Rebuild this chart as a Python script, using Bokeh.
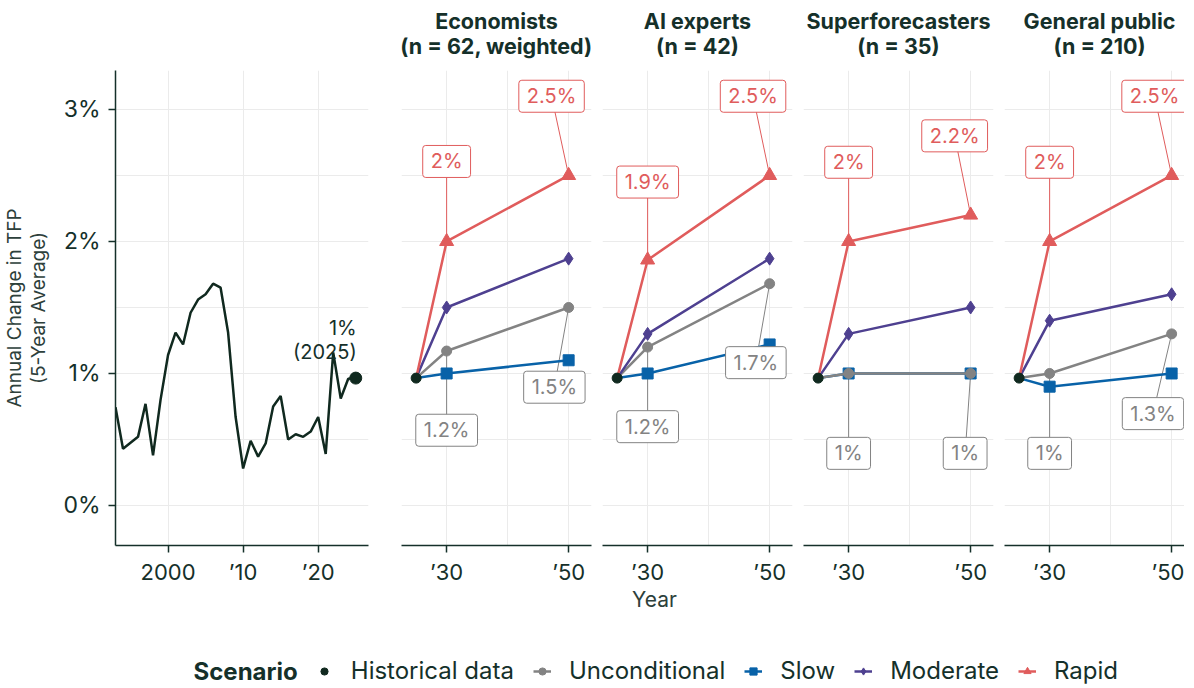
from bokeh.plotting import figure
from bokeh.models import Range1d, FixedTicker, Label, Legend, LegendItem
from bokeh.layouts import row, column
from bokeh.embed import file_html
from bokeh.resources import INLINE
from bokeh.core.properties import value

FONT = "Inter"
DARK = "#15302a"
AXIS_TITLE = "#2d403b"
GRID = "#ebebeb"
C_HIST = "#10291f"
C_UNC = "#838383"
C_SLOW = "#0862a8"
C_MOD = "#4e4090"
C_RAP = "#e05c5c"

# ---------------- data ----------------
hist_years = list(range(1993, 2026))
hist_tfp = [0.745, 0.43, 0.475, 0.52, 0.77, 0.38, 0.80, 1.14, 1.31, 1.22,
            1.46, 1.56, 1.60, 1.68, 1.65, 1.31, 0.67, 0.28, 0.49, 0.37,
            0.47, 0.75, 0.83, 0.50, 0.54, 0.52, 0.56, 0.67, 0.39, 1.16,
            0.81, 0.96, 0.965]

forecast_years = [2030, 2050]
groups = ["Economists", "AI experts", "Superforecasters", "General public"]
group_n = ["n = 62, weighted", "n = 42", "n = 35", "n = 210"]
unconditional = [[1.17, 1.50], [1.20, 1.68], [1.00, 1.00], [1.00, 1.30]]
slow = [[1.00, 1.10], [1.00, 1.22], [1.00, 1.00], [0.90, 1.00]]
moderate = [[1.50, 1.87], [1.30, 1.87], [1.30, 1.50], [1.40, 1.60]]
rapid = [[2.00, 2.50], [1.86, 2.50], [2.00, 2.20], [2.00, 2.50]]

y_ticks = [0, 1, 2, 3]
y_tick_labels = ["0%", "1%", "2%", "3%"]
hist_x_ticks = [2000, 2010, 2020]
hist_x_labels = ["2000", "\u201910", "\u201920"]
fc_x_ticks = [2030, 2050]
fc_x_labels = ["\u201930", "\u201950"]

# label-box placement (layout only): (scenario, year index) -> anchor in data space
label_place = [
    {("rapid", 0): (2030, 2.606), ("rapid", 1): (2047.2, 3.10),
     ("unconditional", 0): (2030, 0.57), ("unconditional", 1): (2047.66, 0.896)},
    {("rapid", 0): (2030, 2.45), ("rapid", 1): (2047.28, 3.10),
     ("unconditional", 0): (2030, 0.597), ("unconditional", 1): (2047.74, 1.082)},
    {("rapid", 0): (2030, 2.60), ("rapid", 1): (2047.38, 2.80),
     ("unconditional", 0): (2030, 0.395), ("unconditional", 1): (2049.1, 0.395)},
    {("rapid", 0): (2030, 2.60), ("rapid", 1): (2047.2, 3.10),
     ("unconditional", 0): (2030, 0.395), ("unconditional", 1): (2046.94, 0.696)},
]


def pct(v):
    s = f"{v:.1f}".rstrip("0").rstrip(".")
    return s + "%"


# ---------------- layout geometry (pixels) ----------------
Y0, Y1 = -0.303, 3.295
HEADER_H = 60
TOP = 10
FRAME_H = 475
BOTTOM = 42
LEG_H = 99
P1_LEFT, P1_FRAME, P1_RIGHT = 115, 253, 28
FC_LEFT, FC_FRAME, FC_RIGHT = 5, 190, 6
LAST_FRAME = 180
TOTAL_W = (P1_LEFT + P1_FRAME + P1_RIGHT) + 3 * (FC_LEFT + FC_FRAME + FC_RIGHT) + FC_LEFT + LAST_FRAME
X_SHIFT = 2  # page offset of the layout in the screenshot


def style(p, xticks, xlabels, minor_x):
    p.outline_line_color = None
    p.background_fill_color = "white"
    p.border_fill_color = "white"
    p.title.visible = False
    p.xaxis.ticker = FixedTicker(ticks=xticks, minor_ticks=minor_x)
    p.xaxis.major_label_overrides = dict(zip(xticks, xlabels))
    for ax in p.xaxis + p.yaxis:
        ax.axis_line_color = DARK
        ax.axis_line_width = 1.5
        ax.major_tick_line_color = DARK
        ax.major_tick_line_width = 1.5
        ax.major_tick_out = 7
        ax.major_tick_in = 0
        ax.minor_tick_line_color = None
        ax.major_label_text_font = FONT
        ax.major_label_text_font_size = "22px"
        ax.major_label_text_color = DARK
        ax.major_label_standoff = 6
    p.yaxis.ticker = FixedTicker(ticks=y_ticks, minor_ticks=[0.5, 1.5, 2.5])
    p.yaxis.major_label_overrides = dict(zip(y_ticks, y_tick_labels))
    p.yaxis.major_label_standoff = 8
    p.yaxis.major_label_text_font_size = "23px"
    p.xgrid.ticker = FixedTicker(ticks=xticks, minor_ticks=minor_x)
    p.ygrid.ticker = FixedTicker(ticks=y_ticks, minor_ticks=[0.5, 1.5, 2.5])
    for g in p.xgrid + p.ygrid:
        g.grid_line_color = GRID
        g.grid_line_width = 1
        g.minor_grid_line_color = GRID
        g.minor_grid_line_width = 1


# ---------------- header strip: panel titles ----------------
hd = figure(width=TOTAL_W, height=HEADER_H, x_range=Range1d(X_SHIFT, X_SHIFT + TOTAL_W),
            y_range=Range1d(HEADER_H, 0), output_backend="svg", toolbar_location=None,
            min_border=0, min_border_left=0, min_border_right=0,
            min_border_top=0, min_border_bottom=0)
hd.outline_line_color = None
hd.axis.visible = False
hd.grid.visible = False
hd.title.visible = False
first_fc_left = X_SHIFT + P1_LEFT + P1_FRAME + P1_RIGHT + FC_LEFT
centers = [first_fc_left + i * (FC_LEFT + FC_FRAME + FC_RIGHT) + FC_FRAME / 2
           for i in range(len(groups))]
hd.text(x=centers, y=[20] * len(groups), text=groups, text_align="center",
        text_baseline="middle", text_font=value(FONT), text_font_size="21.5px",
        text_font_style="bold", text_color=DARK)
hd.text(x=centers, y=[45] * len(groups), text=[f"({n})" for n in group_n],
        text_align="center", text_baseline="middle", text_font=value(FONT),
        text_font_size="21.5px", text_font_style="bold", text_color=DARK)

# ---------------- historical panel ----------------
p1 = figure(frame_width=P1_FRAME, frame_height=FRAME_H,
            x_range=Range1d(1993, 2026.7), y_range=Range1d(Y0, Y1),
            output_backend="svg", toolbar_location=None,
            min_border_left=P1_LEFT, min_border_right=P1_RIGHT,
            min_border_top=TOP, min_border_bottom=BOTTOM)
style(p1, hist_x_ticks, hist_x_labels, [])
p1.yaxis.axis_label = "Annual Change in TFP\n(5-Year Average)"
p1.yaxis.axis_label_text_font = FONT
p1.yaxis.axis_label_text_font_size = "19px"
p1.yaxis.axis_label_text_font_style = "normal"
p1.yaxis.axis_label_text_color = AXIS_TITLE
p1.yaxis.axis_label_standoff = 10
p1.yaxis.axis_label_text_line_height = 1.05

p1.line(hist_years, hist_tfp, color=C_HIST, line_width=2.5)
p1.scatter([hist_years[-1]], [hist_tfp[-1]], marker="circle", size=12, color=C_HIST)
p1.text(x=[hist_years[-1]], y=[hist_tfp[-1]],
        text=[f"{pct(hist_tfp[-1])}\n({hist_years[-1]})"],
        text_align="right", text_baseline="bottom", x_offset=1, y_offset=-14,
        text_font=value(FONT), text_font_size="20px", text_color=DARK,
        text_line_height=1.0)

# ---------------- forecast panels ----------------
scen_style = {
    "slow": (C_SLOW, "square", 11),
    "unconditional": (C_UNC, "circle", 10),
    "moderate": (C_MOD, "diamond", 13),
    "rapid": (C_RAP, "triangle", 14),
}
scen_data = {"slow": slow, "unconditional": unconditional,
             "moderate": moderate, "rapid": rapid}
draw_order = ["slow", "unconditional", "moderate", "rapid"]

panels = []
for gi, g in enumerate(groups):
    last = gi == len(groups) - 1
    fw = LAST_FRAME if last else FC_FRAME
    xr = Range1d(2022.6, 2022.6 + fw / 6.1)
    p = figure(frame_width=fw, frame_height=FRAME_H, x_range=xr,
               y_range=Range1d(Y0, Y1), output_backend="svg",
               toolbar_location=None, min_border_left=FC_LEFT,
               min_border_right=0 if last else FC_RIGHT,
               min_border_top=TOP, min_border_bottom=BOTTOM)
    style(p, fc_x_ticks, fc_x_labels, [2040])
    p.yaxis.visible = False

    # leader lines
    for (scen, yi), (lx, ly) in label_place[gi].items():
        col = C_RAP if scen == "rapid" else C_UNC
        p.segment(x0=[lx], y0=[ly], x1=[forecast_years[yi]],
                  y1=[scen_data[scen][gi][yi]], color=col, line_width=1)

    start_x, start_y = hist_years[-1], hist_tfp[-1]
    for scen in draw_order:
        col, mk, sz = scen_style[scen]
        vals = scen_data[scen][gi]
        p.line([start_x] + forecast_years, [start_y] + vals, color=col, line_width=2.5)
        p.scatter(forecast_years, vals, marker=mk, size=sz, color=col)
    p.scatter([start_x], [start_y], marker="circle", size=10, color=C_HIST)

    for (scen, yi), (lx, ly) in label_place[gi].items():
        col = C_RAP if scen == "rapid" else C_UNC
        p.add_layout(Label(x=lx, y=ly, text=pct(scen_data[scen][gi][yi]),
                           text_align="center", text_baseline="middle",
                           text_font=FONT, text_font_size="20px", text_color=col,
                           background_fill_color="white", background_fill_alpha=1.0,
                           border_line_color=col, border_line_width=1,
                           padding=(8, 4), border_radius=3))
    panels.append(p)

# ---------------- bottom strip: x title + legend ----------------
STRIP_TOP = HEADER_H + TOP + FRAME_H + BOTTOM
lf = figure(width=TOTAL_W, height=LEG_H, x_range=Range1d(X_SHIFT, X_SHIFT + TOTAL_W),
            y_range=Range1d(STRIP_TOP + LEG_H, STRIP_TOP),
            output_backend="svg", toolbar_location=None, min_border=0,
            min_border_left=0, min_border_right=0, min_border_top=0, min_border_bottom=0)
lf.outline_line_color = None
lf.axis.visible = False
lf.grid.visible = False
lf.title.visible = False
lf.text(x=[656], y=[599], text=["Year"], text_align="center", text_baseline="middle",
        text_font=value(FONT), text_font_size="21px", text_color=AXIS_TITLE)
lf.text(x=[195], y=[671], text=["Scenario"], text_align="left", text_baseline="middle",
        text_font=value(FONT), text_font_size="24px", text_font_style="bold",
        text_color=DARK)

items = []
off_x, off_y = [-100, -90], [-100, -100]
r_h = lf.scatter(x=off_x[:1], y=off_y[:1], marker="circle", size=10, color=C_HIST)
items.append(LegendItem(label="Historical data", renderers=[r_h]))
for scen, name in [("unconditional", "Unconditional"), ("slow", "Slow"),
                   ("moderate", "Moderate"), ("rapid", "Rapid")]:
    col, mk, sz = scen_style[scen]
    rl = lf.line(x=off_x, y=off_y, color=col, line_width=2.5)
    rs = lf.scatter(x=off_x[:1], y=off_y[:1], marker=mk, size=sz - 2, color=col)
    items.append(LegendItem(label=name, renderers=[rl, rs]))
legend = Legend(items=items, orientation="horizontal", location=(316.8 - X_SHIFT, 1),
                glyph_width=18, glyph_height=20, label_standoff=18, spacing=19,
                padding=0, margin=0, border_line_color=None,
                background_fill_alpha=0, label_text_font=FONT,
                label_text_font_size="24px", label_text_color=DARK)
lf.add_layout(legend)

layout = column(hd, row([p1] + panels, spacing=0), lf, spacing=0)
open("out.html", "w").write(file_html(layout, INLINE))
